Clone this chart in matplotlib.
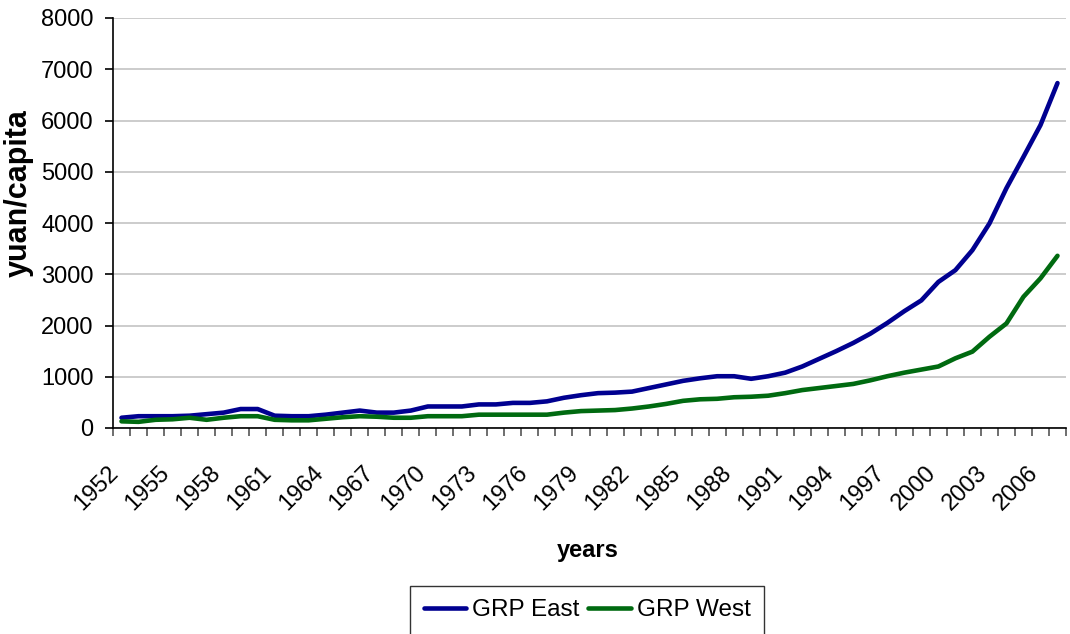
import matplotlib

matplotlib.use("Agg")
import matplotlib.pyplot as plt  # noqa: E402
from matplotlib.transforms import ScaledTranslation  # noqa: E402

plt.rcParams["font.family"] = ["Liberation Sans", "DejaVu Sans"]

COLOR_EAST = "#000090"
COLOR_WEST = "#006A10"

years = list(range(1952, 2008))

grp_east = [
    200, 230, 230, 230, 240, 270, 300, 370, 370, 240,
    230, 230, 260, 300, 340, 300, 300, 340, 420, 420,
    420, 460, 460, 490, 490, 520, 590, 640, 680, 690,
    710, 780, 850, 920, 970, 1010, 1010, 960, 1010, 1080,
    1200, 1350, 1500, 1660, 1840, 2050, 2280, 2490, 2850, 3080,
    3470, 3990, 4680, 5290, 5910, 6730,
]
grp_west = [
    130, 120, 160, 170, 200, 160, 200, 230, 230, 160,
    150, 150, 180, 210, 230, 220, 200, 200, 230, 230,
    230, 260, 260, 260, 260, 260, 300, 330, 340, 350,
    380, 420, 470, 530, 560, 570, 600, 610, 630, 680,
    740, 780, 820, 860, 930, 1010, 1080, 1140, 1200, 1360,
    1490, 1780, 2040, 2560, 2920, 3360,
]
tick_years = list(range(1952, 2007, 3))
y_ticks = [0, 1000, 2000, 3000, 4000, 5000, 6000, 7000, 8000]

fig = plt.figure(figsize=(10.7, 6.34), dpi=100)
ax = fig.add_axes([113 / 1070, 1 - 428 / 634, 953 / 1070, 410 / 634])

idx = list(range(len(years)))
ax.plot(idx, grp_east, color=COLOR_EAST, lw=3.3, label="GRP East",
        solid_capstyle="round", solid_joinstyle="round", zorder=3)
ax.plot(idx, grp_west, color=COLOR_WEST, lw=3.3, label="GRP West",
        solid_capstyle="round", solid_joinstyle="round", zorder=3)

ax.set_xlim(-0.5, len(years) - 0.5)
ax.set_ylim(0, 8000)
ax.set_yticks(y_ticks)
ax.set_yticklabels([str(v) for v in y_ticks], fontsize=17)
ax.yaxis.grid(True, color="#c4c4c4", lw=1.2)
ax.set_axisbelow(True)

# labels at category centres, tick marks at category boundaries
ax.set_xticks([years.index(y) for y in tick_years])
ax.set_xticklabels([str(y) for y in tick_years], rotation=45, ha="right",
                   va="center", rotation_mode="anchor", fontsize=17)
ax.tick_params(axis="x", which="major", length=0, pad=30)
shift = ScaledTranslation(-6 / 100, 0, fig.dpi_scale_trans)
for lab in ax.get_xticklabels():
    lab.set_transform(lab.get_transform() + shift)
ax.set_xticks([i - 0.5 for i in range(len(years) + 1)], minor=True)
ax.tick_params(axis="x", which="minor", length=6, width=1.2, color="#555555")
ax.tick_params(axis="y", length=6, width=1.2, pad=8)

for side in ("top", "right"):
    ax.spines[side].set_visible(False)
for side in ("left", "bottom"):
    ax.spines[side].set_linewidth(1.2)

fig.text(19 / 1070, 1 - 193 / 634, "yuan/capita", rotation=90, fontsize=22,
         fontweight="bold", ha="center", va="center")
fig.text(588 / 1070, 1 - 550 / 634, "years", fontsize=17, fontweight="bold",
         ha="center", va="center")

leg = fig.legend(loc="upper center", bbox_to_anchor=(587 / 1070, 1 - 586 / 634),
                 ncol=2, fontsize=17.5, frameon=True, fancybox=False,
                 edgecolor="black", handlelength=1.75, columnspacing=0.35,
                 handletextpad=0.25, borderpad=0.55, borderaxespad=0)
leg.get_frame().set_linewidth(1.0)

fig.savefig("out.png", dpi=100, facecolor="white")
